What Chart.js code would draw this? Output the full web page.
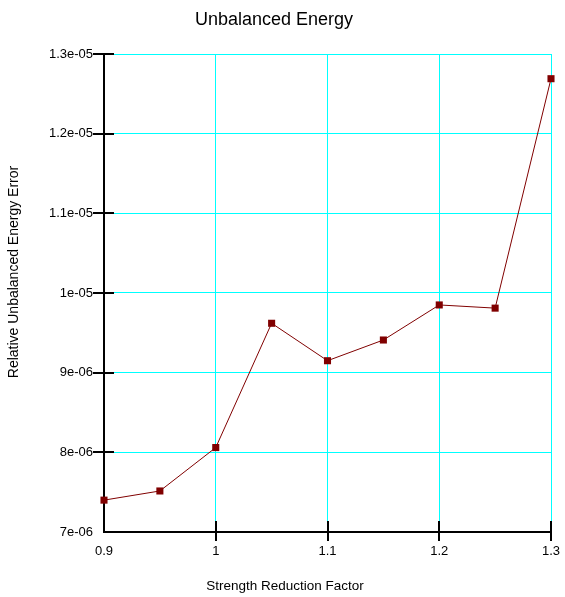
<!DOCTYPE html>
<html>
<head>
<meta charset="utf-8">
<title>Unbalanced Energy</title>
<script src="https://cdn.jsdelivr.net/npm/chart.js@4/dist/chart.umd.min.js"></script>
<style>
  html, body { margin: 0; padding: 0; background: #ffffff; }
  canvas { display: block; }
</style>
</head>
<body>
<canvas id="chart" width="565" height="597"></canvas>
<script>
// Relative unbalanced energy error for each strength reduction factor
const strengthReductionFactor = [0.9, 0.95, 1.0, 1.05, 1.1, 1.15, 1.2, 1.25, 1.3];
const relativeUnbalancedEnergyError = [7.40e-6, 7.515e-6, 8.06e-6, 9.62e-6, 9.15e-6, 9.41e-6, 9.85e-6, 9.81e-6, 1.269e-5];

// Axis ticks and their printed labels
const xTickValues = [0.9, 1.0, 1.1, 1.2, 1.3];
const xTickLabels = ['0.9', '1', '1.1', '1.2', '1.3'];
const yTickValues = [7e-6, 8e-6, 9e-6, 1e-5, 1.1e-5, 1.2e-5, 1.3e-5];
const yTickLabels = ['7e-06', '8e-06', '9e-06', '1e-05', '1.1e-05', '1.2e-05', '1.3e-05'];

// Captions
const chartTitle = 'Unbalanced Energy';
const xAxisTitle = 'Strength Reduction Factor';
const yAxisTitle = 'Relative Unbalanced Energy Error';

const FONT = '"Liberation Sans", Arial, sans-serif';
const GRID = 'rgb(0, 255, 255)';
const SERIES = '#800000';

// Black tick marks that cross the axis lines
const crossTicks = {
  id: 'crossTicks',
  afterDraw(chart) {
    const { ctx, chartArea, scales } = chart;
    ctx.save();
    ctx.strokeStyle = '#000000';
    ctx.lineWidth = 2;
    ctx.beginPath();
    yTickValues.slice(1).forEach(v => {
      const y = Math.round(scales.y.getPixelForValue(v));
      ctx.moveTo(chartArea.left - 11, y);
      ctx.lineTo(chartArea.left + 10, y);
    });
    xTickValues.slice(1).forEach(v => {
      const x = Math.round(scales.x.getPixelForValue(v));
      ctx.moveTo(x, chartArea.bottom - 11);
      ctx.lineTo(x, chartArea.bottom + 9);
    });
    ctx.stroke();
    ctx.restore();
  }
};

// Chart title and axis captions
const captions = {
  id: 'captions',
  afterDraw(chart) {
    const { ctx } = chart;
    ctx.save();
    ctx.fillStyle = '#000000';
    ctx.textAlign = 'center';
    ctx.textBaseline = 'alphabetic';

    ctx.font = '18px ' + FONT;
    ctx.fillText(chartTitle, 274, 25);

    ctx.font = '13.5px ' + FONT;
    ctx.fillText(xAxisTitle, 285, 590);

    ctx.translate(18, 272);
    ctx.rotate(-Math.PI / 2);
    ctx.font = '14px ' + FONT;
    ctx.fillText(yAxisTitle, 0, 0);
    ctx.restore();
  }
};

new Chart(document.getElementById('chart'), {
  type: 'line',
  data: {
    datasets: [{
      label: chartTitle,
      data: strengthReductionFactor.map((x, i) => ({ x, y: relativeUnbalancedEnergyError[i] })),
      borderColor: SERIES,
      backgroundColor: SERIES,
      borderWidth: 1,
      pointStyle: 'rect',
      pointRadius: 5,
      pointBorderWidth: 0,
      pointBackgroundColor: SERIES,
      tension: 0,
      clip: false
    }]
  },
  options: {
    responsive: false,
    animation: false,
    events: [],
    layout: { padding: { top: 54, right: 14, bottom: 0, left: 0 } },
    plugins: {
      legend: { display: false },
      title: { display: false },
      tooltip: { enabled: false }
    },
    scales: {
      x: {
        type: 'linear',
        min: 0.9,
        max: 1.3,
        afterBuildTicks: s => { s.ticks = xTickValues.map(value => ({ value })); },
        afterFit: s => { s.height = 65; s.paddingLeft = 0; s.paddingRight = 0; },
        grid: { color: () => GRID, lineWidth: 1, drawTicks: false },
        border: { color: '#000000', width: 2 },
        ticks: {
          padding: 12,
          color: '#000000',
          autoSkip: false,
          font: { family: FONT, size: 13 },
          maxRotation: 0,
          callback: (v, i) => xTickLabels[i]
        }
      },
      y: {
        type: 'linear',
        min: 7e-6,
        max: 1.3e-5,
        afterBuildTicks: s => { s.ticks = yTickValues.map(value => ({ value })); },
        afterFit: s => { s.width = 104; s.paddingTop = 0; s.paddingBottom = 0; },
        grid: { color: () => GRID, lineWidth: 1, drawTicks: false },
        border: { color: '#000000', width: 2 },
        ticks: {
          padding: 11,
          color: '#000000',
          autoSkip: false,
          font: { family: FONT, size: 13 },
          callback: (v, i) => yTickLabels[i]
        }
      }
    }
  },
  plugins: [crossTicks, captions]
});
</script>
</body>
</html>
